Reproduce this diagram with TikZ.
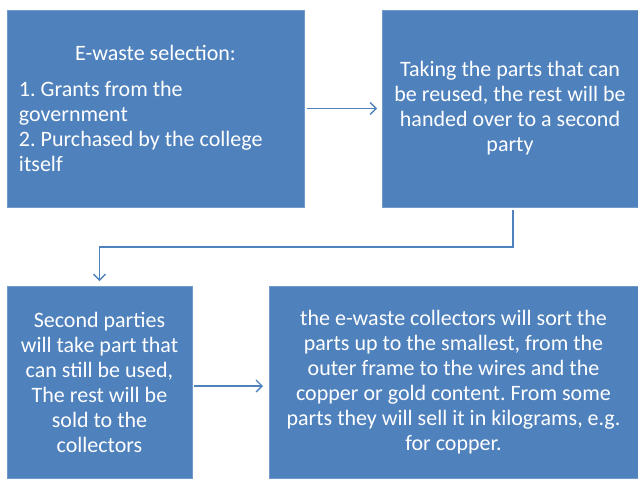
\documentclass[tikz,border=0pt]{standalone}
\usepackage{fontspec}
\setmainfont{Carlito}
\usepackage{xcolor}
\usetikzlibrary{arrows.meta, positioning, calc}
\definecolor{boxblue}{HTML}{4F81BD}

\tikzset{
  box/.style={fill=boxblue, draw=boxblue!80!white, line width=0.6pt, text=white,
    inner sep=0pt, outer sep=0pt, align=center,
    font=\fontsize{22}{25}\selectfont\frenchspacing},
  flow/.style={draw=boxblue, line width=1.4pt,
    -{Straight Barb[length=6pt,width=12pt]}}
}

\begin{document}
\begin{tikzpicture}[x=1pt,y=-1pt]
                    \useasboundingbox (0,0) rectangle (638,479);

                    \node[box, minimum width=297pt, minimum height=197pt, align=flush left, text width=273pt] (Selection) at (155.5,108.5)
                        {\makebox[273pt]{E-waste selection:}\\[11pt]
                         1. Grants from the\\ government\\ 2. Purchased by the college\\ itself};
                    \node[box, minimum width=256pt, minimum height=197pt] (Reuse) at (510,108.5)
                        {Taking the parts that can\\ be reused, the rest will be\\ handed over to a second\\ party};

                    \node[box, minimum width=185pt, minimum height=192pt] (Second) at (99.5,382)
                        {Second parties\\ will take part that\\ can still be used,\\ The rest will be\\ sold to the\\ collectors};
                    \node[box, minimum width=369pt, minimum height=192pt] (Collectors) at (453.5,382)
                        {the e-waste collectors will sort the\\ parts up to the smallest, from the\\ outer frame to the wires and the\\ copper or gold content. From some\\ parts they will sell it in kilograms, e.g.\\ for copper.};

                    \draw[flow, shorten <=3pt, shorten >=5pt] (Selection) to (Reuse);
                    \draw[flow, shorten <=3pt, shorten >=5pt] ([xshift=3pt]Reuse.south) -- ++(0,40) -| (Second.north);
                    \draw[flow, shorten <=2pt, shorten >=6pt] ([yshift=-4pt]Second.east) to ([yshift=-4pt]Collectors.west);
                \end{tikzpicture}
\end{document}
